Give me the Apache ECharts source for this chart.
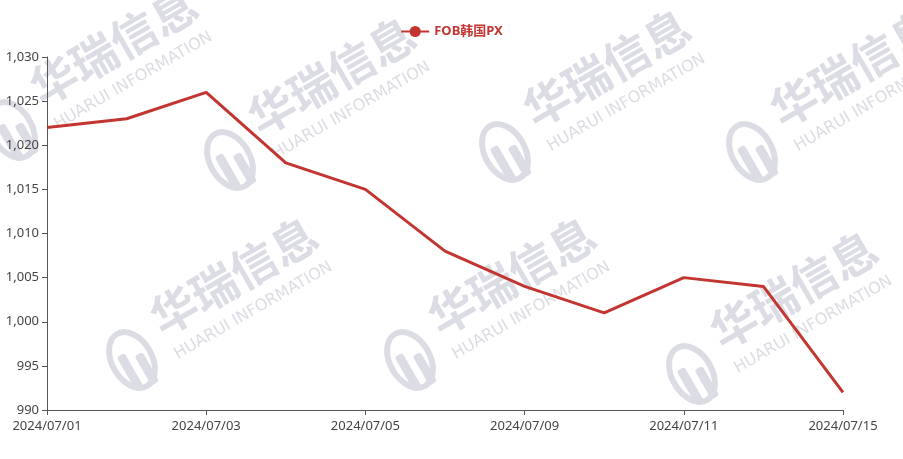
<!DOCTYPE html>
<html>
<head>
<meta charset="utf-8">
<script src="https://cdn.jsdelivr.net/npm/echarts@6/dist/echarts.min.js"></script>
<style>html,body{margin:0;padding:0;background:#fff}#c{width:903px;height:459px}</style>
</head>
<body>
<div id="c"></div>
<script>
const categories = ['2024/07/01','2024/07/02','2024/07/03','2024/07/04','2024/07/05','2024/07/08','2024/07/09','2024/07/10','2024/07/11','2024/07/12','2024/07/15'];
const seriesName = 'FOB韩国PX';
const values = [1022, 1023, 1026, 1018, 1015, 1008, 1004, 1001, 1005, 1004, 992];
const yMin = 990, yMax = 1030, yStep = 5;

const wmColor = '#dcdde4';
const wmPositions = [[12,130],[230,160],[505,152],[752,152],[132,360],[410,360],[692,374]];
function watermark(p){
  return {
    type:'group', x:p[0], y:p[1], rotation: Math.PI/6, silent:true, z:-10,
    children:[
      {type:'ellipse', shape:{cx:0,cy:0,rx:20,ry:30}, style:{fill:'none',stroke:wmColor,lineWidth:6}},
      {type:'rect', shape:{x:-12,y:-10,width:9,height:40,r:3}, style:{fill:wmColor}},
      {type:'rect', shape:{x:4,y:-2,width:9,height:34,r:3}, style:{fill:wmColor}},
      {type:'text', x:38, y:-22, style:{text:'华瑞信息', font:'bold 46px "Noto Sans CJK SC"', fill:wmColor, textVerticalAlign:'middle'}},
      {type:'text', x:40, y:18, style:{text:'HUARUI INFORMATION', font:'16px "DejaVu Sans"', fill:wmColor, textVerticalAlign:'middle'}}
    ]
  };
}

const chart = echarts.init(document.getElementById('c'));
chart.setOption({
  animation:false,
  color:['#c23531'],
  graphic: wmPositions.map(watermark),
  legend:{
    top:20, left:'center',
    itemWidth:28, itemHeight:14,
    textStyle:{color:'#c23531', fontWeight:'bold', fontSize:13, fontFamily:'"Noto Sans","Noto Sans CJK SC"'},
    data:[seriesName]
  },
  grid:{left:47, right:60, top:57, bottom:49, containLabel:false},
  xAxis:{
    type:'category', data:categories, boundaryGap:false,
    axisLine:{lineStyle:{color:'#555'}},
    axisTick:{interval:1, lineStyle:{color:'#555'}},
    axisLabel:{interval:1, color:'#444', fontSize:13, fontFamily:'"Noto Sans"', margin:10}
  },
  yAxis:{
    type:'value', min:yMin, max:yMax, interval:yStep,
    splitLine:{show:false},
    axisLine:{show:true, lineStyle:{color:'#555'}},
    axisTick:{show:true, lineStyle:{color:'#555'}},
    axisLabel:{color:'#444', fontSize:13, fontFamily:'"Noto Sans"', margin:8}
  },
  series:[{
    name:seriesName, type:'line', data:values, showSymbol:false, symbol:'circle', symbolSize:8,
    lineStyle:{width:3, color:'#c23531'}, itemStyle:{color:'#c23531'}
  }]
});
</script>
</body>
</html>
